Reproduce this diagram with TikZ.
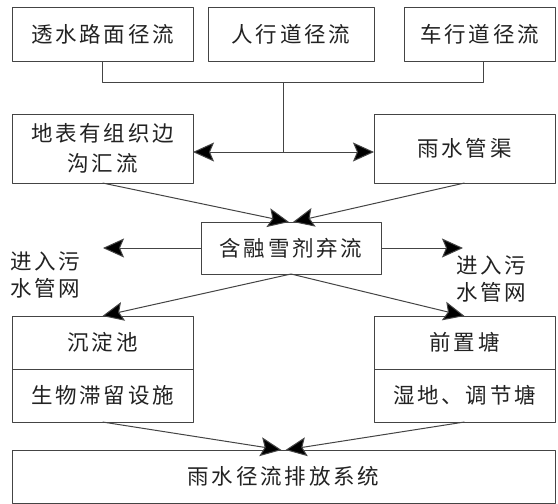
\documentclass[tikz,border=0pt]{standalone}
\usepackage{fontspec}
\newfontfamily\cjk[LetterSpace=13]{Noto Sans CJK SC}
\usetikzlibrary{arrows.meta,positioning}
\definecolor{flowLine}{HTML}{444444}
\definecolor{flowInk}{HTML}{222222}

\begin{document}
\begin{tikzpicture}[x=1pt,y=-1pt,line join=round]
\useasboundingbox[fill=white] (0,0) rectangle (558,504);
\tikzset{box/.style={draw=flowLine,line width=1pt,text=flowInk,font=\cjk\fontsize{21.5}{30}\selectfont,inner sep=0pt,outer sep=0pt,align=center},
  wide/.style={minimum width=181pt},half/.style={minimum height=53pt},
  link/.style={draw=flowLine,line width=1pt},arrow/.style={link,-{Stealth[length=21pt,width=19pt,inset=4pt,fill=black]}},
  note/.style={text=flowInk,font=\cjk\fontsize{21.5}{27}\selectfont,inner sep=0pt,align=left}}
% runoff sources
\node[box,wide,minimum height=54pt] (srcA) at (102.5,34) {透水路面径流};
\node[box,minimum width=166pt,minimum height=54pt] (srcB) at (291,34) {人行道径流};
\node[box,minimum width=151pt,minimum height=54pt] (srcC) at (479.5,34) {车行道径流};
\node[box,wide,minimum height=69pt] (gutter) at (102.5,148.5) {地表有组织边\\沟汇流};
\node[box,wide,minimum height=69pt] (pipe) at (464.5,148.5) {雨水管渠};
\node[box,minimum width=180pt,minimum height=52pt] (divert) at (291,248) {含融雪剂弃流};
% treatment
\node[box,wide,half] (settle) at (102.5,342.5) {沉淀池};
\node[box,wide,half,below=0pt of settle] (bioret) {生物滞留设施};
\node[box,wide,half] (forebay) at (464.5,342.5) {前置塘};
\node[box,wide,half,below=0pt of forebay] (wetland) {湿地、调节塘};
\node[box,minimum width=543pt,minimum height=53pt] (outlet) at (283.5,476.5) {雨水径流排放系统};
\node[note,anchor=west] (sewerTextL) at (10,275) {进入污\\水管网};
\node[note,anchor=west] (sewerTextR) at (456,279) {进入污\\水管网};
\coordinate (sewerL) at (103,248); \coordinate (sewerR) at (463,248);
\coordinate (joinA) at (102.5,82); \coordinate (joinC) at (483,82); \coordinate (joinM) at (283.5,82); \coordinate (split) at (283.5,152);
% connectors
\draw[link] (srcA.south) -- (joinA) -- (joinC) -- (srcC.south -| joinC);
\draw[link] (joinM) -- (split);
\draw[arrow] (split) -- (gutter.east |- split); \draw[arrow] (split) -- (pipe.west |- split);
\draw[arrow] (gutter.south) -- ([xshift=-2pt]divert.north); \draw[arrow] (pipe.south) -- ([xshift=2pt]divert.north);
\draw[arrow] (divert.west) -- (sewerL); \draw[arrow] (divert.east) -- (sewerR);
\draw[arrow] (divert.south) -- (settle.north); \draw[arrow] (divert.south) -- (forebay.north);
\draw[arrow] (bioret.south) -- ([xshift=-2pt]outlet.north); \draw[arrow] (wetland.south) -- ([xshift=2pt]outlet.north);
\end{tikzpicture}
\end{document}
